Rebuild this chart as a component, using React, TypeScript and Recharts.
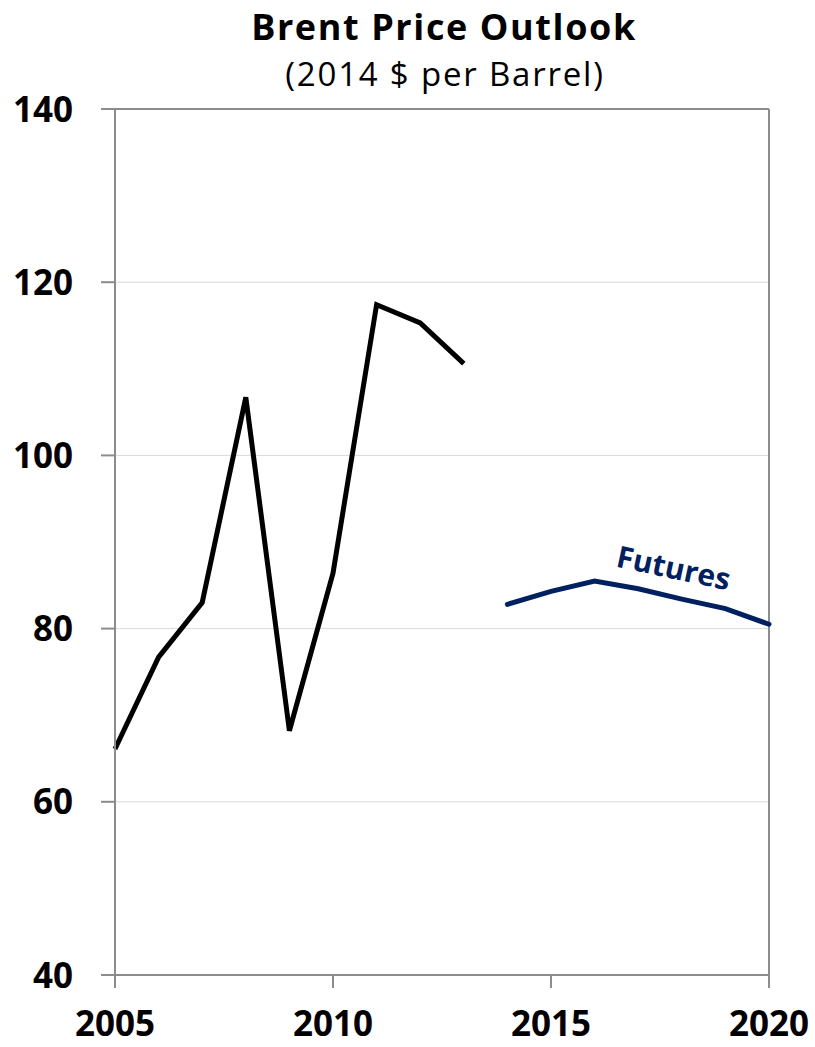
// Brent price outlook: historical annual average plus the futures strip, in 2014 dollars.
import { LineChart, Line, XAxis, YAxis, CartesianGrid, ReferenceLine, LabelList } from "recharts";

const YEARS = [2005, 2006, 2007, 2008, 2009, 2010, 2011, 2012, 2013, 2014, 2015, 2016, 2017, 2018, 2019, 2020];
// actual Brent, $/bbl (2014 $)
const HISTORY = [66.1, 76.7, 83.0, 106.7, 68.2, 86.4, 117.4, 115.3, 110.6, null, null, null, null, null, null, null];
// futures curve
const FUTURES = [null, null, null, null, null, null, null, null, null, 82.8, 84.3, 85.5, 84.6, 83.4, 82.3, 80.5];

const X_TICKS = [2005, 2010, 2015, 2020];
const Y_TICKS = [40, 60, 80, 100, 120, 140];

const W = 815;
const H = 1047;
const FONT = "'Open Sans', 'Noto Sans', sans-serif";
const AXIS = "#8c8c8c";
const NAVY = "#002060";

const rows = YEARS.map((year, i) => ({ year, history: HISTORY[i], futures: FUTURES[i] }));

function YTick({ y, payload }: any) {
  return (
    <text x={73} y={y} dy={12.5} textAnchor="end" fontFamily={FONT} fontWeight={700} fontSize={35} fill="#000">
      {payload.value}
    </text>
  );
}

function XTick({ x, payload }: any) {
  return (
    <text x={x} y={1036} textAnchor="middle" fontFamily={FONT} fontWeight={700} fontSize={35} fill="#000">
      {payload.value}
    </text>
  );
}

// series label sits above the 2018 point, tilted with the curve
function FuturesLabel({ x, y, index }: any) {
  if (YEARS[index] !== 2018) return null;
  const cx = x - 8;
  const cy = y - 32;
  return (
    <text
      x={cx}
      y={cy}
      textAnchor="middle"
      dominantBaseline="central"
      transform={`rotate(12 ${cx} ${cy})`}
      fontFamily={FONT}
      fontWeight={700}
      fontSize={30}
      fill={NAVY}
    >
      Futures
    </text>
  );
}

export default function App() {
  return (
    <div style={{ position: "absolute", left: 0, top: 0, width: W, height: H, background: "#fff" }}>
      <svg width={W} height={100} style={{ position: "absolute", left: 0, top: 0 }}>
        <text x={444} y={39.5} textAnchor="middle" fontFamily={FONT} fontWeight={700} fontSize={36} letterSpacing={1.6}>
          Brent Price Outlook
        </text>
        <text x={445} y={86} textAnchor="middle" fontFamily={FONT} fontSize={33} letterSpacing={1.8}>
          (2014 $ per Barrel)
        </text>
      </svg>
      <LineChart
        width={W}
        height={H}
        data={rows}
        margin={{ top: 109, right: 46, bottom: 12, left: 0 }}
      >
        <CartesianGrid horizontal vertical={false} stroke="#d9d9d9" strokeWidth={1} />
        <XAxis
          dataKey="year"
          type="number"
          domain={[2005, 2020]}
          ticks={X_TICKS}
          height={60}
          stroke={AXIS}
          strokeWidth={2}
          tickSize={13}
          tick={<XTick />}
        />
        <YAxis
          type="number"
          domain={[40, 140]}
          ticks={Y_TICKS}
          width={115}
          stroke={AXIS}
          strokeWidth={2}
          tickSize={14}
          tick={<YTick />}
        />
        <ReferenceLine y={140} stroke={AXIS} strokeWidth={2} />
        <ReferenceLine x={2020} stroke={AXIS} strokeWidth={2} />
        <Line
          dataKey="history"
          stroke="#000"
          strokeWidth={5}
          dot={false}
          connectNulls={false}
          isAnimationActive={false}
        />
        <Line
          dataKey="futures"
          stroke={NAVY}
          strokeWidth={5}
          strokeLinecap="round"
          dot={false}
          connectNulls={false}
          isAnimationActive={false}
        >
          <LabelList dataKey="futures" content={<FuturesLabel />} />
        </Line>
      </LineChart>
    </div>
  );
}
